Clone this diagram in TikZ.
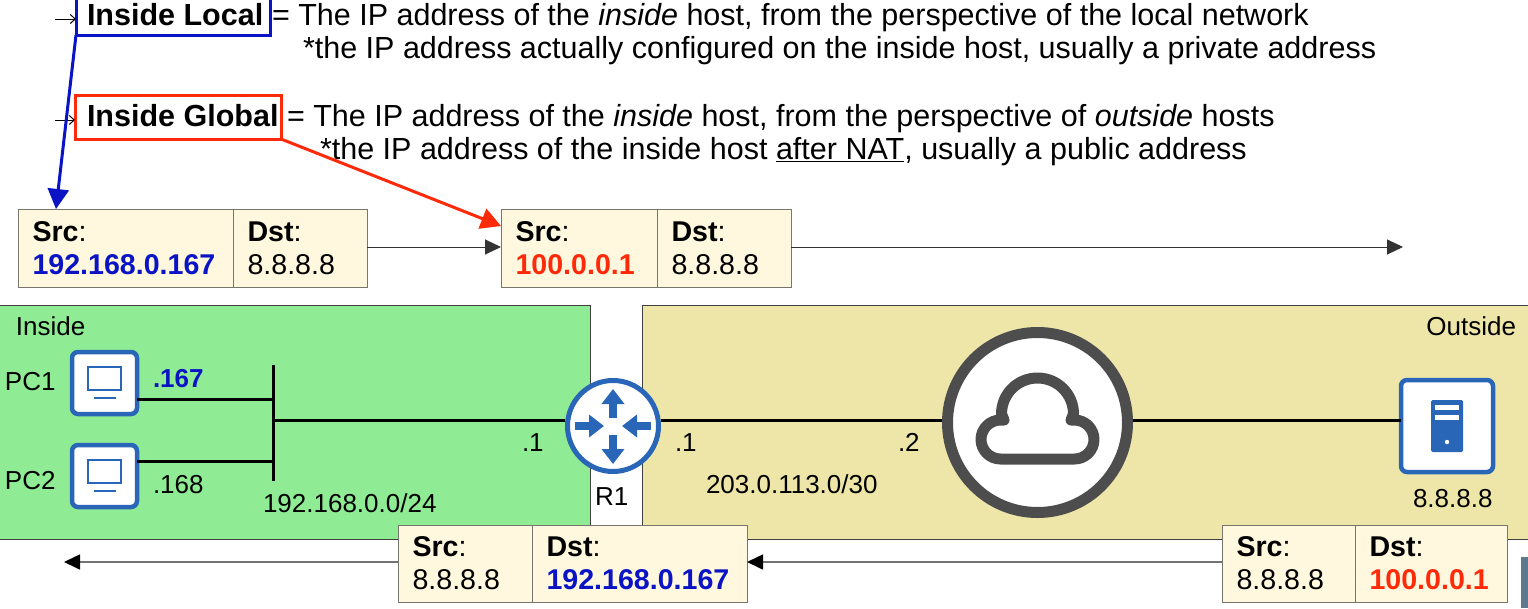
\documentclass[tikz,border=0pt]{standalone}
\usepackage{fontspec}
\setmainfont{Liberation Sans}
\usetikzlibrary{arrows.meta}
\definecolor{tblue}{HTML}{0A14C4}
\definecolor{tred}{HTML}{FF2A0A}
\definecolor{iconblue}{HTML}{2A66B8}
\definecolor{cellfill}{HTML}{FFF8DE}
\definecolor{cellline}{HTML}{77756C}
\definecolor{greenzone}{HTML}{90EC94}
\definecolor{khakizone}{HTML}{EEE6A8}
\definecolor{cloudgrey}{HTML}{4D4D4D}
\definecolor{cornerblue}{HTML}{5C7A8C}
\newcommand{\mainfs}{\fontsize{30.5}{33}\selectfont}
\newcommand{\cellfs}{\fontsize{28.6}{33}\selectfont}
\newcommand{\labfs}{\fontsize{26}{30}\selectfont}
\tikzset{
  txt/.style={anchor=base west,inner sep=0pt,outer sep=0pt,font=\mainfs},
  lab/.style={anchor=base west,inner sep=0pt,outer sep=0pt,font=\labfs},
  cell/.style={draw=cellline,line width=1pt,fill=cellfill,anchor=north west,align=left,
    inner xsep=14.5pt,inner ysep=0pt,outer sep=0pt,font=\cellfs},
  zone/.style={draw=black!75,line width=1pt,anchor=north west,inner sep=0pt,outer sep=0pt},
  icon/.style={draw=iconblue,line width=4.5pt,fill=white,rounded corners=6pt,inner sep=0pt,outer sep=0pt,anchor=center},
  wire/.style={black,line width=3pt},
  flow/.style={black!80,line width=1pt,-{Triangle[width=15pt,length=16pt]}},
  flowgrey/.style={black!55,line width=1.6pt,-{Triangle[width=15pt,length=16pt,black]}},
  small/.style={black,line width=1pt,-{Straight Barb[length=5pt,width=9pt]}},
  hbox/.style={line width=3pt,anchor=north west,inner sep=0pt,outer sep=0pt},
  rarrow/.style={iconblue,line width=8pt,-{Triangle[width=22pt,length=15pt]}}
}
\begin{document}
\begin{tikzpicture}[x=1pt,y=-1pt]
\useasboundingbox (0,0) rectangle (1528,608);
% zones
\node[zone,fill=greenzone,minimum width=592pt,minimum height=234pt] (inside) at (-2,305) {};
\node[zone,fill=khakizone,minimum width=888pt,minimum height=234pt] (outside) at (642,305) {};
\node[anchor=north west,fill=cornerblue,inner sep=0pt,minimum width=7pt,minimum height=51pt] (corner) at (1521,557) {};
% highlighted terms
\node[hbox,draw=tblue,minimum width=194pt,minimum height=38pt] (local) at (76,-3) {};
\node[hbox,draw=tred,minimum width=206pt,minimum height=44pt] (global) at (75,95) {};
% text
\node[txt] (t1) at (87,25) {\textbf{Inside Local}};
\node[txt] (t2) at (272,25) {= The IP address of the \textit{inside} host, from the perspective of the local network};
\node[txt] (t3) at (303,58) {*the IP address actually configured on the inside host, usually a private address};
\node[txt] (t4) at (87,126) {\textbf{Inside Global}};
\node[txt] (t5) at (287,126) {= The IP address of the \textit{inside} host, from the perspective of \textit{outside} hosts};
\node[txt] (t6) at (320,159) {*the IP address of the inside host \underline{after NAT}, usually a public address};
% small arrows
\coordinate (s1) at (55,19);
\coordinate (s2) at (55,120);
\draw[small] (s1) -- (s1 -| local.west);
\draw[small] (s2) -- (s2 -| global.west);
% packets
\node[cell,minimum width=215pt,minimum height=78pt,text width=186pt] (a1) at (18,209) {\textbf{Src}:\\\textcolor{tblue}{\textbf{192.168.0.167}}};
\node[cell,minimum width=134pt,minimum height=78pt,text width=105pt] (a2) at (233,209) {\textbf{Dst}:\\8.8.8.8};
\node[cell,minimum width=156pt,minimum height=78pt,text width=127pt] (b1) at (501,209) {\textbf{Src}:\\\textcolor{tred}{\textbf{100.0.0.1}}};
\node[cell,minimum width=134pt,minimum height=78pt,text width=105pt] (b2) at (657,209) {\textbf{Dst}:\\8.8.8.8};
\node[cell,minimum width=134pt,minimum height=77pt,text width=105pt] (c1) at (398,525) {\textbf{Src}:\\8.8.8.8};
\node[cell,minimum width=215pt,minimum height=77pt,text width=186pt] (c2) at (532,525) {\textbf{Dst}:\\\textcolor{tblue}{\textbf{192.168.0.167}}};
\node[cell,minimum width=133pt,minimum height=77pt,text width=104pt] (d1) at (1222,525) {\textbf{Src}:\\8.8.8.8};
\node[cell,minimum width=152pt,minimum height=77pt,text width=123pt] (d2) at (1355,525) {\textbf{Dst}:\\\textcolor{tred}{\textbf{100.0.0.1}}};
% flows
\coordinate (f1) at (1403,247);
\coordinate (f2) at (64,562);
\draw[flow] (f1 -| a2.east) -- (f1 -| b1.west);
\draw[flow] (f1 -| b2.east) -- (f1);
\draw[flowgrey] (f2 -| c1.west) -- (f2);
\draw[flowgrey] (f2 -| d1.west) -- (f2 -| c2.east);
% callout arrows
\coordinate (ta) at (56,209);
\coordinate (tb) at (501,226);
\draw[tblue,line width=3pt,-{Triangle[width=21pt,length=20pt]}] (local.south west) -- (ta);
\draw[tred,line width=3pt,-{Triangle[width=21pt,length=20pt]}] (global.south east) -- (tb);
% icons
\node[icon,minimum width=65pt,minimum height=62pt] (pc1) at (104.5,383) {};
\node[icon,minimum width=65pt,minimum height=62pt] (pc2) at (104.5,476) {};
\node[icon,minimum width=92pt,minimum height=92pt] (srv) at (1447,426) {};
\node[draw=iconblue,line width=5pt,fill=white,circle,minimum size=91pt,inner sep=0pt,outer sep=2.5pt] (r1) at (613,426) {};
\node[draw=cloudgrey,line width=11pt,fill=white,circle,minimum size=180pt,inner sep=0pt,outer sep=5.5pt] (cloud) at (1037.5,422.5) {};
% monitors
\foreach \n/\y in {pc1/383,pc2/476}{
  \draw[iconblue,line width=1.8pt] (88,\y-16) rectangle (121,\y+7);
  \draw[iconblue,line width=2.6pt] (94,\y+15) -- (116,\y+15);
}
% server glyph
\fill[iconblue,rounded corners=1.5pt] (1431,400) rectangle (1463,452);
\fill[white] (1435,405) rectangle (1459,410);
\fill[white] (1435,415) rectangle (1459,420);
\fill[white] (1447,442) circle (2.2);
% cloud glyph
\draw[cloudgrey,line width=11pt,line join=round]
 (1000.5,459) .. controls (989.8,459) and (981,450.2) .. (981,439.5)
 .. controls (981,428.8) and (989.8,420) .. (1000.5,420)
 -- (1004,420) -- (1001.5,414)
 .. controls (1001.5,394) and (1017.5,378) .. (1037.5,378)
 .. controls (1057.5,378) and (1073.5,394) .. (1073.5,414)
 -- (1071,420) -- (1074.5,420)
 .. controls (1085.2,420) and (1094,428.8) .. (1094,439.5)
 .. controls (1094,450.2) and (1085.2,459) .. (1074.5,459) -- cycle;
% router arrows
\draw[rarrow] (613,418) -- (613,389);
\draw[rarrow] (613,435) -- (613,464);
\draw[rarrow] (575,426) -- (604,426);
\draw[rarrow] (651,426) -- (622,426);
% wires
\coordinate (bt) at (273,365);
\coordinate (bb) at (273,481);
\coordinate (j1) at (273,399);
\coordinate (j2) at (273,461.5);
\coordinate (j3) at (273,420);
\draw[wire] (bt) -- (bb);
\draw[wire] (j1 -| pc1.east) -- (j1);
\draw[wire] (j2 -| pc2.east) -- (j2);
\draw[wire] (j3) -- (j3 -| r1.west);
\coordinate (w1) at (661,420);
\coordinate (w2) at (942,420);
\coordinate (w3) at (1133,420);
\draw[wire] (w1) -- (w2);
\draw[wire] (w3) -- (j3 -| srv.west);
% labels
\node[lab] (l1) at (16,335) {Inside};
\node[lab,anchor=base east] (l2) at (1516,335) {Outside};
\node[lab] (l3) at (5,390) {PC1};
\node[lab] (l4) at (5,489) {PC2};
\node[lab,text=tblue] (l5) at (153,387) {\textbf{.167}};
\node[lab] (l6) at (153,493) {.168};
\node[lab] (l7) at (263,512) {192.168.0.0/24};
\node[lab] (l8) at (522,451) {.1};
\node[lab] (l9) at (595,505) {R1};
\node[lab] (l10) at (675,451) {.1};
\node[lab] (l11) at (898,451) {.2};
\node[lab] (l12) at (706,493) {203.0.113.0/30};
\node[lab] (l13) at (1413,507) {8.8.8.8};
\end{tikzpicture}
\end{document}
